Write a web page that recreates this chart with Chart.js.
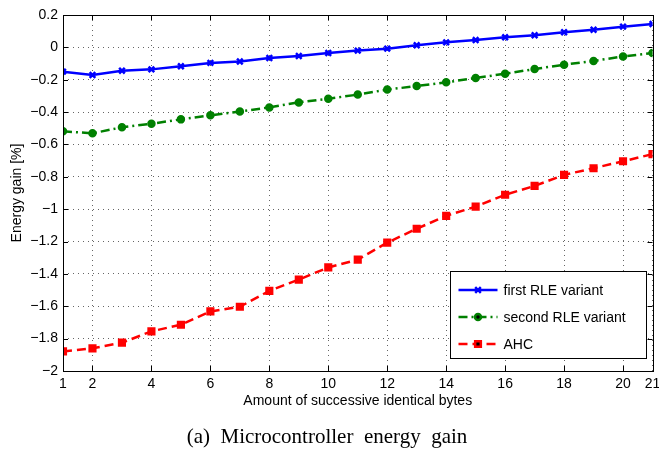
<!DOCTYPE html>
<html lang="en">

<head>
  <meta charset="UTF-8">
  <script src="https://cdn.jsdelivr.net/npm/chart.js@4.4.1/dist/chart.umd.min.js"></script>
  <title>Microcontroller energy gain</title>
  <style>
    html, body { margin: 0; padding: 0; background: #fff; }
  </style>
</head>

<body>
  <canvas id="myChart" width="659" height="454"></canvas>
  <script>
    // successive identical bytes
    const bytes = [1, 2, 3, 4, 5, 6, 7, 8, 9, 10, 11, 12, 13, 14, 15, 16, 17, 18, 19, 20, 21];
    const firstRle = [-0.150, -0.171, -0.144, -0.136, -0.117, -0.096, -0.087, -0.066, -0.053, -0.035,
      -0.020, -0.008, 0.013, 0.031, 0.045, 0.062, 0.075, 0.093, 0.109, 0.128, 0.144];
    const secondRle = [-0.519, -0.531, -0.494, -0.472, -0.445, -0.420, -0.396, -0.371, -0.340, -0.317,
      -0.292, -0.261, -0.239, -0.216, -0.189, -0.163, -0.134, -0.107, -0.084, -0.056, -0.035];
    const ahc = [-1.879, -1.860, -1.825, -1.755, -1.714, -1.632, -1.603, -1.505, -1.435, -1.360,
      -1.312, -1.207, -1.121, -1.041, -0.984, -0.911, -0.856, -0.788, -0.747, -0.704, -0.660];

    const xTicks = [1, 2, 4, 6, 8, 10, 12, 14, 16, 18, 20, 21];
    const yTicks = [0.2, 0, -0.2, -0.4, -0.6, -0.8, -1, -1.2, -1.4, -1.6, -1.8, -2];

    const FONT = '"Liberation Sans", Arial, sans-serif';

    function pts(ys) {
      return bytes.map((x, i) => ({ x: x, y: ys[i] }));
    }

    function fmtY(v) {
      const r = Math.round(v * 10) / 10;
      if (r === 0) return '0';
      return (r < 0 ? '\u2212' : '') + String(Math.abs(r));
    }

    // MATLAB style box, inward ticks and legend inside the axes
    const matlabBox = {
      id: 'matlabBox',
      afterDraw(chart) {
        const { ctx, chartArea: a, scales } = chart;
        const t = 5;
        ctx.save();
        ctx.strokeStyle = '#000';
        ctx.lineWidth = 1;
        ctx.setLineDash([]);
        ctx.beginPath();
        xTicks.forEach(v => {
          const px = Math.round(scales.x.getPixelForValue(v)) + 0.5;
          ctx.moveTo(px, a.bottom); ctx.lineTo(px, a.bottom - t);
          ctx.moveTo(px, a.top); ctx.lineTo(px, a.top + t);
        });
        yTicks.forEach(v => {
          const py = Math.round(scales.y.getPixelForValue(v)) + 0.5;
          ctx.moveTo(a.left, py); ctx.lineTo(a.left + t, py);
          ctx.moveTo(a.right, py); ctx.lineTo(a.right - t, py);
        });
        ctx.stroke();
        ctx.strokeRect(Math.round(a.left) + 0.5, Math.round(a.top) + 0.5,
          Math.round(a.right - a.left), Math.round(a.bottom - a.top));

        // legend
        const w = 196, h = 87;
        const lx = Math.round(a.right - 7 - w) + 0.5;
        const ly = Math.round(a.bottom - 13 - h) + 0.5;
        ctx.fillStyle = '#fff';
        ctx.fillRect(lx, ly, w, h);
        ctx.strokeStyle = '#000';
        ctx.strokeRect(lx, ly, w, h);
        ctx.font = '14px ' + FONT;
        ctx.textBaseline = 'middle';
        chart.data.datasets.forEach((ds, i) => {
          const cy = ly + 18.5 + i * 27;
          ctx.strokeStyle = ds.borderColor;
          ctx.lineWidth = ds.borderWidth;
          ctx.setLineDash(ds.borderDash || []);
          ctx.beginPath();
          ctx.moveTo(lx + 8, cy);
          ctx.lineTo(lx + 47, cy);
          ctx.stroke();
          ctx.setLineDash([]);
          Chart.helpers.drawPoint(ctx, {
            pointStyle: ds.pointStyle, radius: ds.pointRadius, rotation: 0,
            borderWidth: ds.pointBorderWidth
          }, lx + 27.5, cy);
          ctx.fillStyle = '#000';
          ctx.fillText(ds.label, lx + 53, cy + 1);
        });
        ctx.restore();
      }
    };

    function dataset(label, ys, color, dash, style, radius) {
      return {
        label: label,
        data: pts(ys),
        borderColor: color,
        backgroundColor: color,
        pointBackgroundColor: color,
        pointBorderColor: color,
        borderWidth: 2.5,
        borderDash: dash,
        pointStyle: style,
        pointRadius: radius,
        pointBorderWidth: 2.5,
        tension: 0
      };
    }

    new Chart('myChart', {
      type: 'line',
      data: {
        datasets: [
          dataset('first RLE variant', firstRle, '#0000ff', [], 'crossRot', 4),
          dataset('second RLE variant', secondRle, '#008000', [9, 4, 2, 4], 'circle', 3),
          dataset('AHC', ahc, '#ff0000', [9, 5], 'rect', 4)
        ]
      },
      options: {
        responsive: false,
        animation: false,
        layout: { padding: { left: 0, top: 15, right: 5, bottom: 0 } },
        plugins: {
          legend: { display: false },
          tooltip: { enabled: false },
          title: {
            display: true,
            position: 'bottom',
            text: '(a)  Microcontroller  energy  gain',
            color: '#000',
            font: { family: '"Liberation Serif", "Times New Roman", serif', size: 21, weight: 'normal', lineHeight: 1 },
            padding: { top: 7, bottom: 6 }
          }
        },
        scales: {
          x: {
            type: 'linear',
            min: 1,
            max: 21,
            afterBuildTicks: s => { s.ticks = xTicks.map(v => ({ value: v })); },
            afterFit: s => { s.height = 49; s.paddingLeft = 0; s.paddingRight = 0; },
            ticks: { color: '#000', font: { family: FONT, size: 14 }, padding: 5, autoSkip: false, maxRotation: 0 },
            grid: { color: 'rgba(0,0,0,0.6)', drawTicks: false },
            border: { display: false, dash: [1, 4] },
            title: {
              display: true,
              text: 'Amount of successive identical bytes',
              color: '#000',
              font: { family: FONT, size: 14 },
              padding: { top: 0, bottom: 10 }
            }
          },
          y: {
            min: -2,
            max: 0.2,
            afterBuildTicks: s => { s.ticks = yTicks.map(v => ({ value: v })); },
            afterFit: s => { s.width = 63; s.paddingTop = 0; s.paddingBottom = 0; },
            ticks: { color: '#000', font: { family: FONT, size: 14 }, padding: 5, callback: v => fmtY(v) },
            grid: { color: 'rgba(0,0,0,0.6)', drawTicks: false },
            border: { display: false, dash: [1, 4] },
            title: {
              display: true,
              text: 'Energy gain [%]',
              color: '#000',
              font: { family: FONT, size: 14 },
              padding: { top: 9, bottom: 0 }
            }
          }
        }
      },
      plugins: [matlabBox]
    });
  </script>
</body>

</html>
